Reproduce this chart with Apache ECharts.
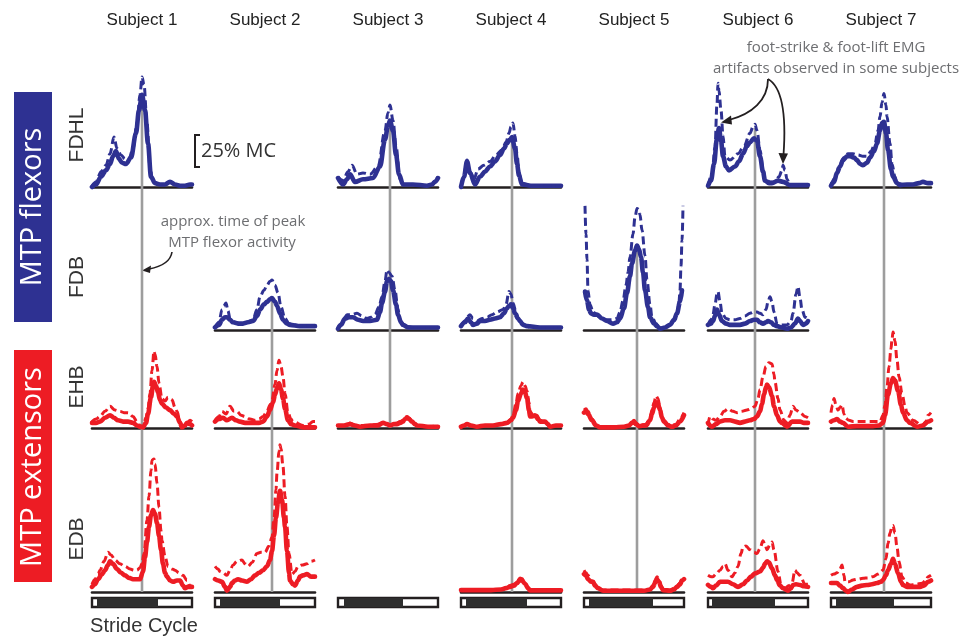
<!DOCTYPE html>
<html><head><meta charset="utf-8">
<script src="https://cdn.jsdelivr.net/npm/echarts@6/dist/echarts.min.js"></script>
<style>html,body{margin:0;padding:0;background:#fff}#c{width:976px;height:636px}</style>
</head><body><div id="c"></div>
<script>
// ---------------- DATA ----------------
const subjects = ['Subject 1','Subject 2','Subject 3','Subject 4','Subject 5','Subject 6','Subject 7'];
const muscles = ['FDHL','FDB','EHB','EDB'];
const peakTime = [50,57,52,51,53,47,53];          // % stride, approx. time of peak MTP flexor activity
const stanceStart = [5,5,6,5,5,4,5];              // % stride
const stanceEnd = [66,65,65,66,69,67,63];         // % stride

// [% stride, % MC]
const s1FDHLsolid = [[0,0],[4,2],[9,8],[14,13],[18,18],[21,24],[24,28],[27,22],[30,19],[34,18],[39,23],[44,42],[47,60],[50,72],[53,60],[56,34],[59,8],[63,3],[68,2],[73,2],[78,4],[83,2],[88,1],[93,1],[98,2],[100,2]];
const s1FDHLdash = [[0,1],[4,4],[9,12],[14,17],[18,26],[22,39],[25,30],[29,25],[33,22],[37,22],[41,30],[45,50],[48,72],[50,86],[52,80],[55,50],[58,15],[61,4],[66,2],[73,2],[78,4],[83,2],[90,1],[98,2],[100,2]];
const s3FDHLsolid = [[0,7],[5,2],[9,6],[12,10],[17,4],[25,6],[35,7],[42,16],[47,37],[50,48],[52,52],[55,44],[58,25],[61,10],[65,2],[75,2],[89,1],[94,2],[97,4],[100,7]];
const s3FDHLdash = [[0,8],[5,5],[10,12],[14,17],[19,10],[25,11],[32,10],[40,16],[47,44],[50,58],[52,64],[55,52],[58,32],[62,6],[66,2],[75,2],[89,1],[94,2],[97,5],[100,8]];
const s4FDHLsolid = [[0,0],[3,8],[6,20],[9,11],[14,2],[19,8],[24,12],[29,16],[34,20],[39,25],[43,30],[46,34],[49,37],[51,39],[54,30],[56,18],[58,9],[61,2],[70,1],[80,1],[90,1],[100,1]];
const s4FDHLdash = [[0,0],[3,9],[6,21],[9,12],[13,6],[17,14],[23,17],[29,20],[35,25],[41,29],[45,35],[48,42],[50,47],[52,50],[54,40],[56,26],[58,12],[61,3],[70,1],[80,1],[90,1],[100,1]];
const s6FDHLsolid = [[0,1],[3,5],[6,18],[9,38],[11,46],[13,36],[15,24],[18,16],[21,13],[27,16],[31,20],[35,26],[39,32],[42,35],[46,38],[49,36],[52,24],[55,12],[57,5],[61,3],[64,3],[70,5],[75,4],[82,1.5],[90,1.5],[100,1.5]];
const s6FDHLdash = [[0,1],[4,10],[7,31],[9,65],[10,81],[11,75],[13,60],[15,40],[17,24],[22,21],[30,26],[36,32],[42,42],[45,47],[47,49],[49,44],[52,29],[55,14],[57,6],[62,4],[67,4],[71,8],[74,13],[75,17],[77,13],[79,6],[82,1.5],[90,1.5],[100,1.5]];
const s7FDHLsolid = [[0,1],[3,4],[6,11],[9,16],[12,21],[16,24],[19,24],[23,23],[26,21],[29,18],[32,17],[36,19],[39,23],[43,28],[46,34],[49,44],[51,50],[53,51],[55,42],[57,29],[60,14],[62,8],[66,3],[69,1.5],[76,2],[82,2],[88,3],[92,4],[97,3],[100,3]];
const s7FDHLdash = [[0,1],[4,7],[9,18],[13,23],[17,26],[22,26],[27,25],[32,24],[36,24],[40,28],[44,34],[47,44],[49,55],[51,66],[53,73],[55,64],[56,55],[59,34],[61,18],[64,8],[66,3],[72,2],[82,2],[88,3],[92,4],[97,3],[100,3]];

const s2FDBsolid = [[0,2],[4,4],[7,8],[10,10],[12,10],[15,8],[18,6],[23,5],[28,5],[33,6],[38,7],[42,11],[45,16],[49,20],[52,22],[55,24],[57,25],[60,22],[62,19],[65,13],[68,8],[72,5],[75,4],[85,3],[95,3],[100,3]];
const s2FDBdash = [[0,2],[4,6],[7,16],[9,19],[11,21],[13,15],[15,9],[20,6],[25,5],[32,6],[38,8],[42,16],[45,26],[49,31],[52,35],[55,38],[57,39],[60,35],[63,29],[66,18],[70,9],[74,5],[78,4],[88,3],[100,3]];
const s3FDBsolid = [[0,1],[3,4],[7,9],[11,10],[15,10],[20,8],[25,7],[32,7],[39,8],[42,14],[44,21],[47,30],[49,38],[51,40],[53,38],[55,31],[58,20],[60,12],[63,6],[65,4],[70,2],[75,2],[90,2],[100,2]];
const s3FDBdash = [[0,1],[3,4],[6,9],[9,12],[14,12],[19,13],[24,11],[29,9],[33,10],[37,12],[41,18],[44,26],[47,38],[49,47],[51,45],[54,42],[57,31],[60,16],[62,8],[65,4],[67,3],[75,2],[90,2],[100,2]];
const s4FDBsolid = [[0,3],[4,6],[7,9],[10,6],[12,4],[16,5],[19,7],[24,7],[29,8],[34,9],[39,10],[43,13],[46,17],[48,19],[50,20],[52,17],[54,13],[57,9],[59,7],[62,4],[66,3],[79,2],[100,2]];
const s4FDBdash = [[0,3],[4,7],[6,10],[9,12],[12,9],[16,7],[21,9],[26,10],[31,12],[36,14],[42,16],[45,20],[48,30],[50,28],[52,21],[55,14],[57,9],[60,6],[64,4],[70,2],[100,2]];
const s5FDBsolid = [[1,30],[3,23],[5,16],[7,13],[10,12],[13,12],[18,9],[23,7],[29,5],[33,6],[36,9],[40,17],[43,29],[46,42],[48,52],[51,62],[53,66],[55,63],[57,57],[59,45],[61,31],[64,18],[66,10],[70,5],[73,3],[76,1],[81,2],[86,4],[90,8],[93,13],[96,22],[98,31]];
const s5FDBdash = [[1,97],[2,75],[3,55],[4,31],[6,20],[9,14],[14,11],[18,9],[23,8],[28,8],[33,9],[36,14],[39,23],[42,35],[44,45],[46,57],[49,75],[51,88],[53,95],[55,94],[56,90],[58,78],[61,58],[63,39],[66,20],[68,10],[72,5],[76,1],[81,2],[86,4],[90,7],[93,10],[95,22],[96,31],[97,50],[98,70],[99,97]];
const s6FDBsolid = [[0,4],[3,5],[5,7],[7,11],[9,16],[11,12],[14,7],[18,5],[22,4],[27,4],[32,4],[37,5],[42,7],[46,8],[49,8],[52,6],[55,5],[58,6],[60,7],[63,6],[66,4],[69,3],[74,2],[79,1],[83,2],[87,5],[90,9],[92,7],[95,4],[98,5],[100,7]];
const s6FDBdash = [[0,4],[3,8],[5,12],[7,20],[9,28],[10,30],[12,22],[14,13],[18,9],[22,8],[27,8],[32,9],[37,11],[42,13],[46,14],[49,14],[52,13],[55,12],[58,16],[60,22],[62,26],[64,22],[66,14],[69,5],[74,4],[79,4],[83,7],[85,13],[88,28],[90,34],[92,25],[94,16],[97,10],[100,9]];

const s1EHBsolid = [[0,4],[4,4],[8,5],[13,8],[18,10],[22,8],[26,6],[31,5],[36,5],[41,4],[45,2],[48,1],[51,0.5],[54,4],[56,11],[59,24],[61,33],[62,36],[64,33],[66,28],[68,22],[70,19],[74,16],[78,14],[82,11],[85,9],[88,4],[90,0.5],[93,2],[95,4],[98,3],[100,2]];
const s1EHBdash = [[0,5],[4,7],[8,9],[13,13],[18,17],[23,14],[28,13],[32,12],[36,12],[41,9],[45,5],[48,2],[51,0.5],[54,8],[56,15],[58,27],[60,45],[62,60],[63,58],[65,48],[67,35],[70,23],[73,21],[76,24],[80,22],[83,16],[85,13],[88,5],[90,1],[94,3],[98,6],[100,5]];
const s2EHBsolid = [[0,5],[4,7],[8,8],[12,6],[17,8],[21,6],[25,5],[30,4],[38,4],[44,4],[48,5],[52,9],[55,14],[58,20],[60,26],[62,31],[64,35],[66,30],[68,23],[70,15],[73,6],[76,3],[80,2],[88,0.5],[100,0.5]];
const s2EHBdash = [[0,6],[4,9],[7,13],[11,11],[15,17],[19,13],[22,13],[26,10],[30,9],[35,7],[40,6],[44,7],[48,9],[52,13],[55,18],[57,22],[60,34],[62,45],[64,53],[66,48],[68,40],[70,27],[73,12],[76,7],[78,5],[88,2],[94,3],[98,5],[100,5]];
const s3EHBsolid = [[0,2],[6,2],[12,3],[17,2],[22,1],[32,2],[40,2],[45,4],[49,3],[52,2],[56,3],[59,3],[62,4],[65,5],[67,7],[69,8],[71,7],[74,5],[77,3],[79,2],[90,1],[100,1]];
const s3EHBdash = [[0,2],[6,2],[12,4],[17,2],[22,2],[32,2],[40,3],[45,4],[49,3],[52,2],[56,3],[59,4],[62,5],[65,6],[67,8],[69,9],[71,8],[74,5],[77,3],[80,2],[90,1],[100,2]];
const s4EHBsolid = [[0,1],[3,2],[6,3],[10,2],[16,1],[24,2],[32,2],[40,3],[46,4],[50,6],[52,8],[55,14],[57,21],[60,27],[62,30],[64,28],[66,23],[68,14],[69,9],[71,9],[74,10],[77,7],[79,5],[84,5],[87,3],[89,1],[95,2],[100,2]];
const s4EHBdash = [[0,1],[3,2],[6,3],[10,2],[16,1],[24,2],[32,2],[40,3],[46,4],[50,7],[52,10],[55,19],[57,27],[60,33],[62,36],[64,33],[66,29],[68,20],[69,13],[72,10],[76,10],[79,6],[84,5],[87,3],[89,1],[95,2],[100,2]];
const s5EHBsolid = [[0,12],[2,13],[4,11],[8,6],[12,2],[16,0.5],[30,0.5],[40,1],[45,2],[48,4],[50,5],[52,3],[55,1.5],[62,2],[66,6],[68,11],[70,16],[72,20],[74,19],[76,14],[78,8],[80,5],[84,2],[88,1],[92,2],[96,5],[100,10]];
const s5EHBdash = [[0,14],[2,15],[4,13],[8,7],[12,3],[16,1],[30,1],[40,1],[45,2],[48,4],[50,6],[52,4],[55,2],[62,3],[66,8],[68,14],[70,20],[72,25],[74,23],[76,16],[78,9],[80,6],[84,3],[88,2],[92,3],[96,7],[100,12]];
const s6EHBsolid = [[0,4],[4,1],[8,3],[12,5],[17,6],[22,6],[27,5],[32,4],[37,5],[42,6],[46,7],[49,9],[52,13],[54,19],[56,26],[58,32],[59,34],[61,32],[64,25],[66,17],[69,10],[72,5],[74,4],[79,1],[84,5],[88,5],[92,5],[96,4],[100,4]];
const s6EHBdash = [[0,2],[2,9],[5,7],[8,6],[12,9],[16,13],[20,15],[25,13],[29,12],[34,13],[39,14],[43,15],[47,17],[50,23],[52,30],[55,40],[58,48],[61,51],[64,50],[66,42],[67,36],[70,23],[72,14],[76,6],[79,4],[82,10],[85,17],[88,14],[92,12],[97,9],[100,8]];
const s7EHBsolid = [[0,5],[3,6],[6,7],[9,5],[12,4],[17,1],[26,1.5],[34,1.5],[42,1.5],[48,2],[52,4],[54,10],[57,26],[60,35],[62,39],[64,37],[67,29],[70,18],[72,12],[76,6],[79,4],[86,1],[92,2],[97,5],[100,6]];
const s7EHBdash = [[0,12],[1.5,18],[3,23],[5,18],[7,14],[9,16],[11,18],[13,11],[14,8],[18,6],[22,5],[36,5],[49,5],[52,10],[54,18],[56,32],[58,48],[60,62],[61,69],[62,75],[64,68],[66,53],[68,40],[71,27],[74,17],[76,12],[82,6],[91,2],[95,5],[97,10],[100,12]];

const s1EDBsolid = [[0,4],[3,6],[6,10],[10,14],[13,17],[16,21],[18,24],[21,22],[25,18],[29,15],[33,13],[37,11],[41,10],[45,10],[48,10],[51,16],[53,27],[55,39],[57,51],[59,60],[61,64],[63,61],[65,54],[67,44],[69,33],[71,22],[73,15],[75,12],[78,9],[81,8],[85,9],[88,9],[91,5],[93,3],[96,4],[100,4]];
const s1EDBdash = [[0,6],[3,10],[6,14],[8,17],[12,24],[16,31],[19,29],[23,25],[28,22],[33,20],[38,18],[42,17],[45,17],[48,19],[50,22],[52,30],[55,56],[57,75],[59,95],[60,103],[62,104],[63,100],[65,85],[67,66],[69,48],[70,40],[73,28],[76,20],[80,18],[83,17],[87,15],[91,13],[95,9],[98,5],[100,3]];
const s2EDBsolid = [[0,10],[3,9],[7,8],[10,4],[12,1],[15,4],[17,7],[20,9],[23,10],[27,9],[32,8],[36,10],[40,13],[44,15],[48,17],[52,20],[55,25],[57,32],[59,44],[61,58],[63,70],[65,79],[67,72],[69,58],[70,51],[72,32],[74,15],[75,9],[78,6],[80,5],[83,9],[85,12],[88,13],[92,14],[96,12],[100,12]];
const s2EDBdash = [[0,20],[3,18],[5,16],[8,15],[12,13],[15,17],[18,21],[22,24],[27,25],[30,22],[33,20],[37,23],[42,30],[46,31],[50,31],[54,36],[57,43],[59,58],[61,80],[62,93],[64,110],[65,115],[66,112],[68,98],[70,75],[72,51],[74,30],[77,14],[80,16],[83,20],[87,21],[92,22],[96,24],[100,25]];
const s4EDBsolid = [[0,1.5],[10,1.5],[20,1.5],[30,1.5],[40,2],[45,3],[49,4],[53,5],[56,7],[59,9.5],[61,9],[64,6.5],[67,3],[69,1.3],[80,1.3],[100,1.3]];
const s4EDBdash = [[0,1.5],[10,1.5],[20,2],[30,2],[40,2],[45,3],[49,5],[53,6],[56,8],[59,11],[61,10.5],[64,7],[67,3],[69,1.5],[80,1.5],[100,1.5]];
const s5EDBsolid = [[0,14],[2,13],[4,10],[7,8],[9,8],[11,5],[14,3],[19,1],[30,1],[40,1],[53,1],[60,1],[66,2],[69,4],[71,7],[73,10],[75,8],[77,4],[79,1.5],[86,1],[90,2],[93,4],[96,6],[98,9],[100,10]];
const s5EDBdash = [[0,17],[2,15],[4,13],[7,9],[9,8],[11,6],[14,3],[19,1.5],[30,1.5],[40,1.5],[53,1.5],[60,1.5],[66,2],[69,5],[71,9],[73,12],[75,10],[77,5],[79,2],[86,1.5],[90,3],[93,5],[96,7],[98,10],[100,11]];
const s6EDBsolid = [[0,5.5],[3,4],[5,3],[8,5],[12,8],[16,8],[20,8],[25,6],[30,4],[35,6],[39,9],[43,12],[47,14.6],[52,16],[55,19],[57,22],[59,24],[61,23],[64,18.5],[67,13],[69,9.4],[72,5],[75,3],[80,1],[83,3],[85,5.5],[88,6],[92,5.5],[96,4.5],[100,4]];
const s6EDBdash = [[0,13],[3,12],[5,12],[8,14],[12,17],[15,20],[17,22],[20,17],[24,12],[27,15],[30,20],[33,30],[35,35],[38,36],[42,33],[46,31],[49,30],[52,34],[55,40],[57,37],[59,33],[62,37],[64,39],[66,33],[70,16],[73,6],[77,3],[81,5],[84,7],[87,17],[89,15],[92,13],[97,6],[100,6]];
const s7EDBsolid = [[0,7],[3,7],[6,7],[9,5],[12,3],[15,1],[17,0],[21,2],[26,4],[31,5],[36,5.5],[41,6],[46,7],[50,8],[52,9.4],[55,13],[57,17],[60,22],[62,26],[64,22],[67,14.6],[70,8],[72,5.5],[76,4],[82,4],[89,4],[93,5],[97,8],[100,9]];
const s7EDBdash = [[0,13],[3,14],[6,15],[9,18],[11,21],[13,13],[14,8],[18,8],[22,9.4],[27,10],[32,10.7],[37,11],[42,12],[47,14],[52,17],[55,26],[57,38],[59,46],[61,51],[62,52],[64,46],[66,35],[68,24],[71,12],[75,7],[79,5.5],[85,6],[91,6.8],[95,9],[97,12],[100,13]];

// panel table: [subject index, muscle index, solid, dashed]
const panels = [
  [0,0,s1FDHLsolid,s1FDHLdash],[2,0,s3FDHLsolid,s3FDHLdash],[3,0,s4FDHLsolid,s4FDHLdash],[5,0,s6FDHLsolid,s6FDHLdash],[6,0,s7FDHLsolid,s7FDHLdash],
  [1,1,s2FDBsolid,s2FDBdash],[2,1,s3FDBsolid,s3FDBdash],[3,1,s4FDBsolid,s4FDBdash],[4,1,s5FDBsolid,s5FDBdash],[5,1,s6FDBsolid,s6FDBdash],
  [0,2,s1EHBsolid,s1EHBdash],[1,2,s2EHBsolid,s2EHBdash],[2,2,s3EHBsolid,s3EHBdash],[3,2,s4EHBsolid,s4EHBdash],[4,2,s5EHBsolid,s5EHBdash],[5,2,s6EHBsolid,s6EHBdash],[6,2,s7EHBsolid,s7EHBdash],
  [0,3,s1EDBsolid,s1EDBdash],[1,3,s2EDBsolid,s2EDBdash],[3,3,s4EDBsolid,s4EDBdash],[4,3,s5EDBsolid,s5EDBdash],[5,3,s6EDBsolid,s6EDBdash],[6,3,s7EDBsolid,s7EDBdash]
];

// ---------------- LAYOUT / STYLE ----------------
const COL_LEFT = [92,215,338,461,584,708,831];
const COL_W = 100;
const ROW_TOP = [60,187,330,428];
const ROW_BASE = [187,330,428,592];
const PX = 1.28; // pixels per % MC
const BLUE = '#2E3192', RED = '#ED1C24', GRAY = '#9d9d9d', INK = '#231f20', TXT = '#333333', NOTE = '#6d6e71';
const HELV = '"Liberation Sans", Arial, sans-serif';
const MYR = '"Open Sans", "Noto Sans", sans-serif';

const grid = [], xAxis = [], yAxis = [], series = [];
const exists = {};
panels.forEach(p => { exists[p[0] + '_' + p[1]] = p; });

for (let r = 0; r < 4; r++) {
  for (let c = 0; c < 7; c++) {
    const h = ROW_BASE[r] - ROW_TOP[r];
    const has = !!exists[c + '_' + r];
    grid.push({left: COL_LEFT[c], width: COL_W, top: ROW_TOP[r], height: h});
    const gi = grid.length - 1;
    xAxis.push({gridIndex: gi, type: 'value', min: 0, max: 100, show: has,
      axisLine: {show: true, onZero: false, lineStyle: {color: INK, width: 2.6}},
      axisTick: {show: false}, axisLabel: {show: false}, splitLine: {show: false}});
    yAxis.push({gridIndex: gi, type: 'value', min: 0, max: h / PX, show: false, splitLine: {show: false}});
  }
}
// stride-cycle bar grids
for (let c = 0; c < 7; c++) {
  grid.push({left: COL_LEFT[c], width: COL_W, top: 598, height: 9});
  const gi = grid.length - 1;
  xAxis.push({gridIndex: gi, type: 'value', min: 0, max: 100, show: false});
  yAxis.push({gridIndex: gi, type: 'value', min: 0, max: 1, show: false});
  series.push({type: 'custom', xAxisIndex: gi, yAxisIndex: gi, silent: true, clip: false,
    data: [[stanceStart[c], stanceEnd[c]]],
    renderItem: function (params, api) {
      const a = api.coord([0, 0]), b = api.coord([100, 1]);
      const s = api.coord([api.value(0), 0]), e = api.coord([api.value(1), 1]);
      return {type: 'group', children: [
        {type: 'rect', shape: {x: a[0], y: b[1], width: b[0] - a[0], height: a[1] - b[1]}, style: {fill: '#fff', stroke: INK, lineWidth: 2.4}},
        {type: 'rect', shape: {x: s[0], y: b[1], width: e[0] - s[0], height: a[1] - b[1]}, style: {fill: '#2e2e2e'}}
      ]};
    }});
}

// gray vertical lines: time of peak MTP flexor activity
for (let c = 0; c < 7; c++) {
  const rows = [0,1,2,3].filter(r => exists[c + '_' + r]);
  const first = rows[0], last = rows[rows.length - 1];
  for (let r = first; r <= last; r++) {
    const gi = r * 7 + c;
    let top;
    if (r === first) top = Math.max.apply(null, exists[c + '_' + r][2].map(d => d[1]));
    else top = (ROW_BASE[r] - ROW_TOP[r]) / PX;
    series.push({type: 'line', xAxisIndex: gi, yAxisIndex: gi, data: [[peakTime[c], 0], [peakTime[c], top]],
      showSymbol: false, silent: true, clip: false, z: 1, lineStyle: {color: GRAY, width: 2.6}});
  }
}

// EMG curves
panels.forEach(p => {
  const gi = p[1] * 7 + p[0];
  const col = p[1] < 2 ? BLUE : RED;
  series.push({type: 'line', xAxisIndex: gi, yAxisIndex: gi, data: p[2], showSymbol: false, silent: true, clip: false,
    smooth: 0.35, smoothMonotone: 'x', z: 3, lineStyle: {color: col, width: 4.6, cap: 'round', join: 'round'}});
  series.push({type: 'line', xAxisIndex: gi, yAxisIndex: gi, data: p[3], showSymbol: false, silent: true, clip: false,
    smooth: 0.35, smoothMonotone: 'x', z: 4, lineStyle: {color: col, width: 3, type: [8, 4]}});
});

// ---------------- TEXT / ANNOTATIONS ----------------
const graphic = [];
subjects.forEach((s, c) => graphic.push({type: 'text', x: COL_LEFT[c] + COL_W / 2, y: 20,
  style: {text: s, fill: '#222', font: '17px ' + HELV, textAlign: 'center', textVerticalAlign: 'middle'}}));
const rowLabelY = [135, 277, 387, 539];
muscles.forEach((m, r) => graphic.push({type: 'text', x: 77, y: rowLabelY[r], rotation: Math.PI / 2,
  style: {text: m, fill: TXT, font: '21px ' + HELV, textAlign: 'center', textVerticalAlign: 'middle'}}));
// group boxes
graphic.push({type: 'rect', shape: {x: 14, y: 92, width: 38, height: 230}, style: {fill: BLUE}});
graphic.push({type: 'text', x: 33, y: 207, rotation: Math.PI / 2,
  style: {text: 'MTP flexors', fill: '#fff', font: '29px ' + MYR, textAlign: 'center', textVerticalAlign: 'middle'}});
graphic.push({type: 'rect', shape: {x: 14, y: 350, width: 38, height: 232}, style: {fill: RED}});
graphic.push({type: 'text', x: 33, y: 467, rotation: Math.PI / 2,
  style: {text: 'MTP extensors', fill: '#fff', font: '29px ' + MYR, textAlign: 'center', textVerticalAlign: 'middle'}});
// stride cycle label
graphic.push({type: 'text', x: 144, y: 626, style: {text: 'Stride Cycle', fill: TXT, font: '20px ' + HELV, textAlign: 'center', textVerticalAlign: 'middle'}});
// scale bar
const sb = 25 * PX;
graphic.push({type: 'polyline', shape: {points: [[200, 135], [195, 135], [195, 135 + sb], [200, 135 + sb]]}, style: {stroke: INK, lineWidth: 2, fill: null}});
graphic.push({type: 'text', x: 201, y: 135 + sb / 2, style: {text: '25% MC', fill: TXT, font: '20px ' + MYR, textAlign: 'left', textVerticalAlign: 'middle'}});
// peak annotation
graphic.push({type: 'text', x: 233, y: 222, style: {text: 'approx. time of peak', fill: NOTE, font: '15px ' + MYR, textAlign: 'center', textVerticalAlign: 'middle'}});
graphic.push({type: 'text', x: 232, y: 243, style: {text: 'MTP flexor activity', fill: NOTE, font: '15px ' + MYR, textAlign: 'center', textVerticalAlign: 'middle'}});
graphic.push({type: 'bezierCurve', shape: {x1: 172, y1: 252, cpx1: 170, cpy1: 265, x2: 149, y2: 269}, style: {stroke: INK, lineWidth: 1.6, fill: null}});
graphic.push({type: 'polygon', shape: {points: [[142, 270.5], [151, 265.5], [150, 273]]}, style: {fill: INK}});
// artifact annotation
graphic.push({type: 'text', x: 836, y: 48, style: {text: 'foot-strike & foot-lift EMG', fill: NOTE, font: '15px ' + MYR, textAlign: 'center', textVerticalAlign: 'middle'}});
graphic.push({type: 'text', x: 836, y: 69, style: {text: 'artifacts observed in some subjects', fill: NOTE, font: '15px ' + MYR, textAlign: 'center', textVerticalAlign: 'middle'}});
graphic.push({type: 'bezierCurve', shape: {x1: 768, y1: 79, cpx1: 768, cpy1: 100, cpx2: 752, cpy2: 114, x2: 729, y2: 120}, style: {stroke: INK, lineWidth: 1.8, fill: null}});
graphic.push({type: 'polygon', shape: {points: [[721, 122.5], [731, 115.5], [732, 124.5]]}, style: {fill: INK}});
graphic.push({type: 'bezierCurve', shape: {x1: 768, y1: 79, cpx1: 784, cpy1: 88, cpx2: 786, cpy2: 120, x2: 783.5, y2: 155}, style: {stroke: INK, lineWidth: 1.8, fill: null}});
graphic.push({type: 'polygon', shape: {points: [[783, 164], [778.5, 153], [788, 153.5]]}, style: {fill: INK}});

const chart = echarts.init(document.getElementById('c'), null, {renderer: 'canvas'});
chart.setOption({animation: false, backgroundColor: '#fff', grid, xAxis, yAxis, series, graphic});
</script></body></html>
